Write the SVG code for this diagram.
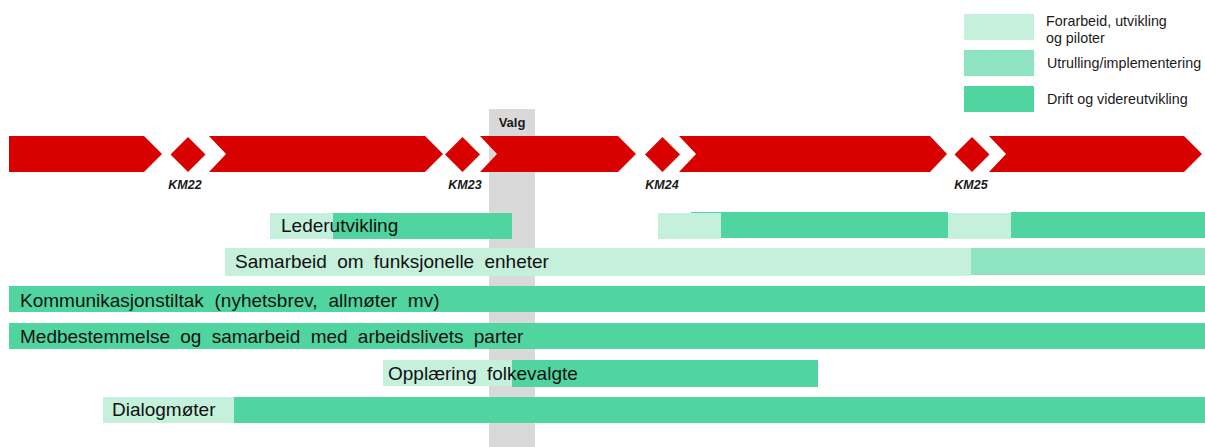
<svg xmlns="http://www.w3.org/2000/svg" width="1205" height="447" viewBox="0 0 1205 447">
<style>
.red{fill:#d90000}
.l{fill:#c5f0dc}
.m{fill:#8ee4c2}
.d{fill:#50d5a0}
.km{font-family:"Liberation Sans",Arial,sans-serif;font-size:12.5px;font-weight:bold;font-style:italic;fill:#1a1a1a;text-anchor:middle}
.lg{font-family:"Liberation Sans",Arial,sans-serif;font-size:14.3px;fill:#1a1a1a}
.rt{font-family:"Liberation Sans",Arial,sans-serif;font-size:19px;fill:#111;word-spacing:5px}
</style>
<rect width="1205" height="447" fill="#fff"/>
<g id="valg">
<rect x="489" y="109" width="46" height="338" fill="#d9d9d9"/>
<text x="512" y="127" font-family="Liberation Sans, Arial, sans-serif" font-size="13" font-weight="bold" fill="#1a1a1a" text-anchor="middle">Valg</text>
</g>
<g id="timeline">
<polygon class="red" points="9,136 144,136 162,154 144,172 9,172"/>
<polygon class="red" points="209,136 425,136 443,154 425,172 209,172 226,154"/>
<polygon class="red" points="480,136 618,136 636,154 618,172 480,172 497,154"/>
<polygon class="red" points="679,136 930,136 947,154 930,172 679,172 696,154"/>
<polygon class="red" points="989,136 1184,136 1202,154 1184,172 989,172 1006,154"/>
</g>
<g id="km22"><polygon class="red" points="188,137 205.5,154.5 188,172 170.5,154.5"/><text class="km" x="185" y="189">KM22</text></g>
<g id="km23"><polygon class="red" points="462.5,137 480,154.5 462.5,172 445,154.5"/><text class="km" x="465" y="189">KM23</text></g>
<g id="km24"><polygon class="red" points="662.5,137 680,154.5 662.5,172 645,154.5"/><text class="km" x="662" y="189">KM24</text></g>
<g id="km25"><polygon class="red" points="972,137 989.5,154.5 972,172 954.5,154.5"/><text class="km" x="971" y="189">KM25</text></g>
<g id="legend">
<rect class="l" x="964" y="14" width="70" height="26"/>
<rect class="m" x="964" y="50" width="70" height="26"/>
<rect class="d" x="964" y="86" width="70" height="26"/>
<text class="lg" x="1046" y="26">Forarbeid, utvikling</text>
<text class="lg" x="1046" y="43">og piloter</text>
<text class="lg" x="1047" y="68">Utrulling/implementering</text>
<text class="lg" x="1047" y="104">Drift og videreutvikling</text>
</g>
<g id="row-lederutvikling">
<rect class="l" x="270" y="213" width="63" height="26"/>
<rect class="d" x="333" y="213" width="179" height="26"/>
<rect class="d" x="691" y="212" width="257" height="26"/>
<rect class="l" x="658" y="213" width="63" height="26"/>
<rect class="l" x="948" y="213" width="63" height="26"/>
<rect class="d" x="1011" y="212" width="194" height="26"/>
<text class="rt" x="281" y="232">Lederutvikling</text>
</g>
<g id="row-samarbeid">
<rect class="l" x="225" y="248" width="746" height="28"/>
<rect class="m" x="971" y="248" width="234" height="27"/>
<text class="rt" x="235" y="268">Samarbeid om funksjonelle enheter</text>
</g>
<g id="row-kommunikasjon">
<rect class="d" x="9" y="286" width="1196" height="26"/>
<text class="rt" x="20" y="307" style="word-spacing:5.5px">Kommunikasjonstiltak (nyhetsbrev, allmøter mv)</text>
</g>
<g id="row-medbestemmelse">
<rect class="d" x="9" y="323" width="1196" height="26"/>
<text class="rt" x="20" y="343">Medbestemmelse og samarbeid med arbeidslivets parter</text>
</g>
<g id="row-opplaering">
<rect class="l" x="383" y="360" width="129" height="26"/>
<rect class="d" x="512" y="360" width="306" height="27"/>
<text class="rt" x="388" y="380">Opplæring folkevalgte</text>
</g>
<g id="row-dialogmoter">
<rect class="l" x="103" y="397" width="131" height="26"/>
<rect class="d" x="234" y="397" width="971" height="26"/>
<text class="rt" x="112" y="416">Dialogmøter</text>
</g>
</svg>
